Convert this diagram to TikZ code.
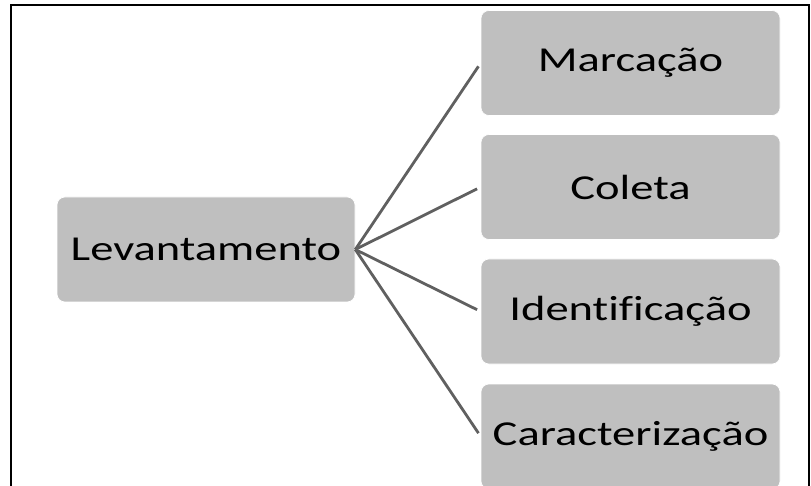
\documentclass[tikz,border=0pt]{standalone}
\usepackage{fontspec}
\setmainfont[FakeStretch=1.33,Ligatures=NoCommon]{Carlito}
\usetikzlibrary{math}
\usetikzlibrary{positioning}

\definecolor{boxgray}{HTML}{BFBFBF}
\definecolor{linegray}{HTML}{606060}

\begin{document}
\begin{tikzpicture}[x=1pt,y=-1pt]

\tikzmath{
	\W = 299pt;
	\H = 105pt;
}

\tikzset{step box/.style={
    fill=boxgray,
    draw=white,
    line width=0.6pt,
    rounded corners=8pt,
    minimum width=#1,
    minimum height=\H,
    inner sep=0pt,
    font=\fontsize{35}{42}\selectfont
  },
  step box/.default=\W,
  branch/.style={
    draw=linegray,
    line width=2.8pt,
    shorten >=4pt
  }
}

\useasboundingbox (0,0) rectangle (811,486);
\clip (0,0) rectangle (811,486);

% outer frame
\draw[line width=1.8pt] (11,500) |- (809,5) -- (809,500);

\node[step box=298pt] (lev) at (206,249.5) {Levantamento};

\node[step box] (mar) at (630.5,63) {Marcação};
\node[step box] (col) at (630.5,187) {Coleta};
\node[step box] (ide) at (630.5,311.5) {Identificação};
\node[step box] (car) at (630.5,436.5) {Caracterização};

\foreach \n in {mar,col,ide,car}
  \draw[branch] (lev.east) -- (\n.west);

\end{tikzpicture}
\end{document}
